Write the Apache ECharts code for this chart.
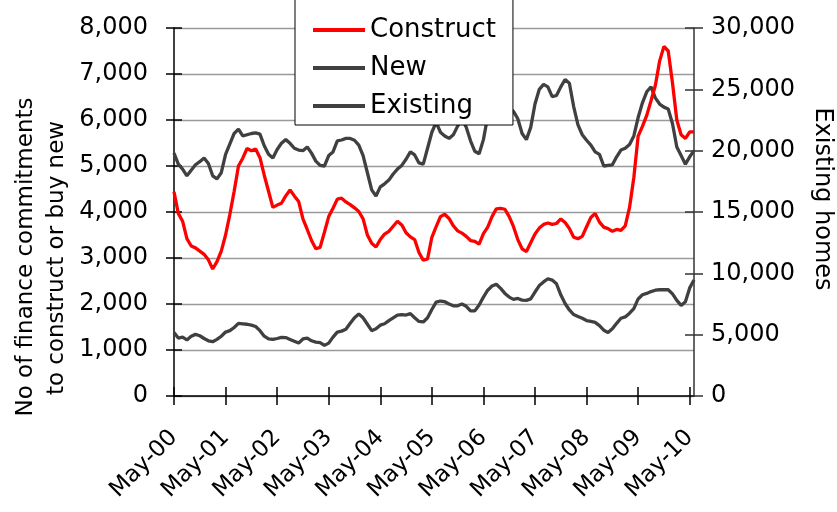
<!DOCTYPE html>
<html>
<head>
<meta charset="utf-8">
<script src="https://cdn.jsdelivr.net/npm/echarts@6/dist/echarts.min.js"></script>
<style>
  html, body { margin: 0; padding: 0; background: #ffffff; }
  #chart { width: 837px; height: 512px; }
</style>
</head>
<body>
<div id="chart"></div>
<script>
// Monthly housing finance commitments, May-2000 to Jun-2010 (122 months)
var START_YEAR = 2000, START_MONTH = 4, MONTH_COUNT = 122;
var monthNames = ['Jan','Feb','Mar','Apr','May','Jun','Jul','Aug','Sep','Oct','Nov','Dec'];

// Commitments to construct a dwelling (left axis)
var construct = [
  4440,3970,3800,3420,3260,3220,3150,3080,2960,2760,2920,3150,
  3500,3950,4450,5000,5170,5380,5330,5370,5180,4800,4450,4100,
  4150,4190,4350,4480,4350,4230,3850,3620,3380,3200,3230,3560,
  3900,4080,4280,4300,4220,4160,4090,4010,3850,3500,3320,3240,
  3400,3520,3580,3690,3800,3720,3550,3460,3400,3120,2950,2980,
  3450,3680,3900,3950,3860,3700,3590,3540,3470,3380,3360,3300,
  3530,3670,3900,4070,4080,4060,3900,3680,3400,3200,3140,3330,
  3520,3650,3730,3760,3730,3750,3850,3770,3640,3450,3420,3470,
  3680,3880,3970,3780,3670,3640,3580,3620,3600,3700,4100,4750,
  5650,5860,6100,6420,6750,7280,7600,7500,6800,6000,5680,5600,
  5740,5740
];

// Commitments to buy a newly erected dwelling (left axis)
var newHomes = [
  1380,1260,1280,1220,1300,1340,1310,1250,1200,1180,1230,1300,
  1390,1420,1490,1580,1570,1560,1540,1510,1420,1300,1240,1230,
  1250,1275,1270,1230,1190,1150,1240,1260,1200,1170,1160,1100,
  1150,1280,1390,1410,1450,1580,1700,1780,1700,1560,1420,1460,
  1540,1570,1640,1700,1760,1770,1760,1790,1700,1620,1610,1700,
  1880,2040,2065,2050,2000,1960,1960,2000,1950,1850,1850,1980,
  2150,2300,2390,2430,2340,2230,2150,2100,2120,2085,2080,2110,
  2260,2400,2480,2550,2520,2440,2200,2010,1870,1770,1730,1690,
  1640,1620,1600,1530,1430,1380,1460,1580,1690,1720,1800,1900,
  2110,2200,2230,2270,2300,2310,2310,2310,2220,2080,1970,2050,
  2350,2520
];

// Commitments to buy an established dwelling (right axis)
var existing = [
  19800,18900,18500,17950,18400,18850,19100,19400,18950,17950,17700,18200,
  19700,20550,21400,21750,21200,21300,21400,21450,21350,20400,19700,19400,
  20100,20600,20900,20600,20200,20050,20000,20300,19800,19150,18800,18750,
  19600,19900,20800,20870,21000,21000,20850,20450,19600,18200,16800,16300,
  17050,17300,17600,18100,18500,18800,19300,19900,19650,19000,18900,20200,
  21500,22300,21500,21200,21000,21300,22000,22600,21900,20800,19950,19750,
  20900,22800,23300,23600,23400,23700,23500,23200,22600,21400,20900,21900,
  23800,25000,25400,25200,24400,24500,25200,25800,25500,23600,22100,21300,
  20850,20450,19900,19700,18750,18800,18850,19500,20050,20200,20500,21200,
  22700,23900,24800,25200,24300,23800,23550,23400,22200,20300,19600,18900,
  19500,20000
];

// Axis scales
var leftTicks = [0, 1000, 2000, 3000, 4000, 5000, 6000, 7000, 8000];
var rightTicks = [0, 5000, 10000, 15000, 20000, 25000, 30000];
var seriesNames = ['Construct', 'New', 'Existing'];

// Category labels such as "May-00"
var months = [];
for (var k = 0; k < MONTH_COUNT; k++) {
  var m = START_MONTH + k;
  var yr = START_YEAR + Math.floor(m / 12);
  months.push(monthNames[m % 12] + '-' + String(yr % 100).padStart(2, '0'));
}

var FONT = 'DejaVu Sans';
var fmt = function (v) { return Number(v).toLocaleString('en-US'); };

var chart = echarts.init(document.getElementById('chart'), null, { renderer: 'canvas' });

var tickStyle = { color: '#000', width: 1.5 };

var option = {
  animation: false,
  backgroundColor: '#ffffff',
  grid: { left: 174, right: 143, top: 28, bottom: 116, containLabel: false },
  legend: {
    data: seriesNames,
    orient: 'vertical',
    left: 295,
    top: -2,
    padding: [17, 17, 4, 18],
    icon: 'rect',
    itemWidth: 52,
    itemHeight: 4,
    itemGap: 8,
    backgroundColor: '#ffffff',
    borderColor: '#000000',
    borderWidth: 1,
    borderRadius: 0,
    z: 10,
    textStyle: { fontFamily: FONT, fontSize: 26, color: '#000', lineHeight: 30 }
  },
  xAxis: [
    {
      type: 'category',
      data: months,
      boundaryGap: false,
      position: 'bottom',
      axisLine: { lineStyle: { color: '#000', width: 1.5 } },
      axisTick: { interval: 11, length: 9, lineStyle: tickStyle },
      axisLabel: {
        interval: 11, rotate: 45, margin: 38,
        fontFamily: FONT, fontSize: 23, color: '#000'
      },
      splitLine: { show: false }
    },
    {
      type: 'category',
      data: months,
      boundaryGap: false,
      position: 'bottom',
      axisLine: { show: false },
      axisTick: { inside: true, interval: 11, length: 9, lineStyle: tickStyle },
      axisLabel: { show: false },
      splitLine: { show: false }
    }
  ],
  yAxis: [
    {
      type: 'value', position: 'left',
      min: leftTicks[0], max: leftTicks[leftTicks.length - 1], interval: leftTicks[1] - leftTicks[0],
      axisLine: { show: true, lineStyle: { color: '#000', width: 1.5 } },
      axisTick: { show: true, length: 8, lineStyle: tickStyle },
      axisLabel: { formatter: fmt, margin: 26, fontFamily: FONT, fontSize: 24, color: '#000' },
      splitLine: { show: true, lineStyle: { color: '#9a9a9a', width: 1.3 } }
    },
    {
      type: 'value', position: 'right',
      min: rightTicks[0], max: rightTicks[rightTicks.length - 1], interval: rightTicks[1] - rightTicks[0],
      axisLine: { show: true, lineStyle: { color: '#333', width: 1.5 } },
      axisTick: { show: true, length: 9, lineStyle: { color: '#333', width: 1.5 } },
      axisLabel: { formatter: fmt, margin: 17, fontFamily: FONT, fontSize: 24, color: '#000' },
      splitLine: { show: false }
    },
    {
      type: 'value', position: 'left',
      min: leftTicks[0], max: leftTicks[leftTicks.length - 1], interval: leftTicks[1] - leftTicks[0],
      axisLine: { show: false },
      axisTick: { show: true, inside: true, length: 8, lineStyle: tickStyle },
      axisLabel: { show: false },
      splitLine: { show: false }
    },
    {
      type: 'value', position: 'right',
      min: rightTicks[0], max: rightTicks[rightTicks.length - 1], interval: rightTicks[1] - rightTicks[0],
      axisLine: { show: false },
      axisTick: { show: true, inside: true, length: 9, lineStyle: { color: '#333', width: 1.5 } },
      axisLabel: { show: false },
      splitLine: { show: false }
    }
  ],
  series: [
    {
      name: 'New', type: 'line', data: newHomes, xAxisIndex: 0, yAxisIndex: 0,
      symbol: 'none', z: 3,
      lineStyle: { color: '#404040', width: 3.3 }, itemStyle: { color: '#404040' }
    },
    {
      name: 'Existing', type: 'line', data: existing, xAxisIndex: 0, yAxisIndex: 1,
      symbol: 'none', z: 3,
      lineStyle: { color: '#404040', width: 3.3 }, itemStyle: { color: '#404040' }
    },
    {
      name: 'Construct', type: 'line', data: construct, xAxisIndex: 0, yAxisIndex: 0,
      symbol: 'none', z: 4,
      lineStyle: { color: '#ff0000', width: 3.3 }, itemStyle: { color: '#ff0000' }
    }
  ],
  graphic: [
    {
      type: 'text', x: 26, y: 257, rotation: Math.PI / 2,
      style: {
        text: 'No of finance commitments', fontFamily: FONT, fontSize: 23,
        fill: '#000', align: 'center', verticalAlign: 'middle'
      }
    },
    {
      type: 'text', x: 57, y: 258, rotation: Math.PI / 2,
      style: {
        text: 'to construct or buy new', fontFamily: FONT, fontSize: 23,
        fill: '#000', align: 'center', verticalAlign: 'middle'
      }
    },
    {
      type: 'text', x: 822, y: 199, rotation: -Math.PI / 2,
      style: {
        text: 'Existing homes', fontFamily: FONT, fontSize: 24,
        fill: '#000', align: 'center', verticalAlign: 'middle'
      }
    }
  ]
};

chart.setOption(option);
</script>
</body>
</html>
